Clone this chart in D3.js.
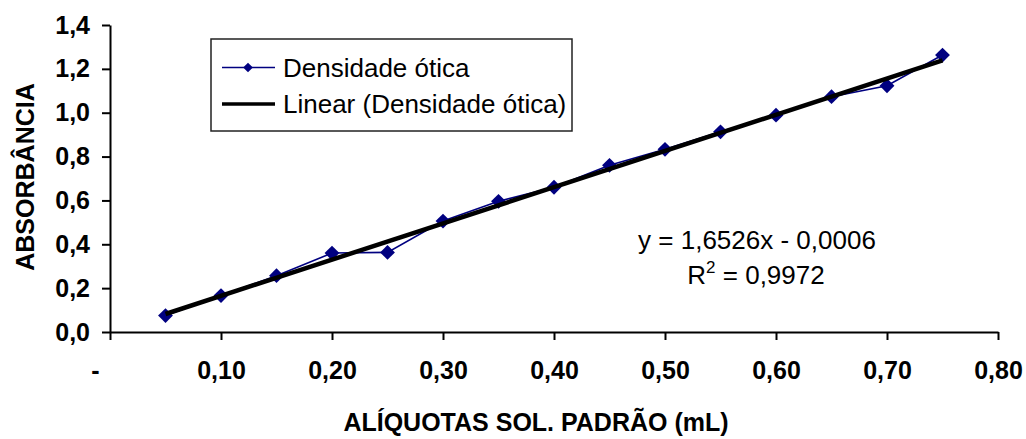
<!DOCTYPE html>
<html>
<head>
<meta charset="utf-8">
<script src="https://cdn.jsdelivr.net/npm/d3@7"></script>
<style>
  html, body { margin: 0; padding: 0; background: #fff; }
  svg { display: block; font-family: "Liberation Sans", Arial, sans-serif; }
</style>
</head>
<body>
<svg id="chart" width="1026" height="439"></svg>
<script>
// Alíquotas da solução padrão (mL) e densidade ótica medida
const aliquotas = [0.05, 0.10, 0.15, 0.20, 0.25, 0.30, 0.35, 0.40, 0.45, 0.50, 0.55, 0.60, 0.65, 0.70, 0.75];
const densidade = [0.075, 0.166, 0.257, 0.360, 0.363, 0.506, 0.596, 0.660, 0.760, 0.833, 0.913, 0.989, 1.073, 1.123, 1.263];

// Regressão linear: y = 1,6526x - 0,0006 ; R² = 0,9972
const inclinacao = 1.6526;
const intercepto = -0.0006;
const r2 = "0,9972";

const xTicks = [0, 0.1, 0.2, 0.3, 0.4, 0.5, 0.6, 0.7, 0.8];
const yTicks = [0, 0.2, 0.4, 0.6, 0.8, 1.0, 1.2, 1.4];

const serieNome = "Densidade ótica";
const tendenciaNome = "Linear (Densidade ótica)";
const tituloX = "ALÍQUOTAS SOL. PADRÃO (mL)";
const tituloY = "ABSORBÂNCIA";

const br = d3.formatLocale({ decimal: ",", thousands: ".", grouping: [3], currency: ["R$", ""] });
const fmtY = br.format(".1f");
const fmtX = v => (v === 0 ? "-" : br.format(".2f")(v));

const svg = d3.select("#chart");
const x = d3.scaleLinear().domain([0, 0.8]).range([110, 998]);
const y = d3.scaleLinear().domain([0, 1.4]).range([332, 25]);

const navy = "#000080";

// Eixo Y
const gy = svg.append("g")
  .attr("transform", `translate(${x(0)},0)`)
  .call(d3.axisLeft(y).tickValues(yTicks).tickFormat(fmtY).tickSize(8).tickSizeOuter(0).tickPadding(12));

// Eixo X
const gx = svg.append("g")
  .attr("transform", `translate(0,${y(0)})`)
  .call(d3.axisBottom(x).tickValues(xTicks).tickFormat(fmtX).tickSize(8).tickSizeOuter(0).tickPadding(21));

[gx, gy].forEach(g => {
  g.select(".domain").attr("stroke", "#000").attr("stroke-width", 2);
  g.selectAll(".tick line").attr("stroke", "#000").attr("stroke-width", 2);
  g.selectAll(".tick text")
    .attr("fill", "#000")
    .style("font-family", "'Liberation Sans', Arial, sans-serif")
    .style("font-weight", "bold")
    .style("font-size", "25px");
});
// o rótulo do zero usa o formato contábil, deslocado à esquerda
gx.selectAll(".tick text").filter(d => d === 0).attr("dx", -15);

// Série de dados
const pts = aliquotas.map((a, i) => [a, densidade[i]]);
svg.append("path")
  .datum(pts)
  .attr("fill", "none")
  .attr("stroke", navy)
  .attr("stroke-width", 1.6)
  .attr("d", d3.line().x(d => x(d[0])).y(d => y(d[1])));

const diamond = d3.symbol().type(d3.symbolDiamond2);
svg.append("g").selectAll("path")
  .data(pts)
  .join("path")
  .attr("transform", d => `translate(${x(d[0])},${y(d[1])})`)
  .attr("d", diamond.size(140)())
  .attr("fill", navy);

// Linha de tendência
const xMin = d3.min(aliquotas), xMax = d3.max(aliquotas);
svg.append("line")
  .attr("x1", x(xMin)).attr("y1", y(inclinacao * xMin + intercepto))
  .attr("x2", x(xMax)).attr("y2", y(inclinacao * xMax + intercepto))
  .attr("stroke", "#000")
  .attr("stroke-width", 4.5);

// Equação e R²
const eq = svg.append("g").style("font-size", "26px").attr("fill", "#000");
eq.append("text")
  .attr("x", 757).attr("y", 249)
  .attr("text-anchor", "middle")
  .text(`y = ${br.format(".4f")(inclinacao)}x - ${br.format(".4f")(Math.abs(intercepto))}`);
const r2t = eq.append("text")
  .attr("x", 756).attr("y", 284)
  .attr("text-anchor", "middle");
r2t.append("tspan").text("R");
r2t.append("tspan").attr("dy", -11).style("font-size", "17px").text("2");
r2t.append("tspan").attr("dy", 11).text(` = ${r2}`);

// Legenda
const lg = svg.append("g");
lg.append("rect")
  .attr("x", 211).attr("y", 39).attr("width", 361).attr("height", 92)
  .attr("fill", "#fff").attr("stroke", "#222").attr("stroke-width", 1.5);
lg.append("line").attr("x1", 222).attr("x2", 275).attr("y1", 67.5).attr("y2", 67.5)
  .attr("stroke", navy).attr("stroke-width", 1.6);
lg.append("path").attr("transform", "translate(248,67.5)")
  .attr("d", d3.symbol().type(d3.symbolDiamond2).size(60)()).attr("fill", navy);
lg.append("line").attr("x1", 222).attr("x2", 275).attr("y1", 104).attr("y2", 104)
  .attr("stroke", "#000").attr("stroke-width", 3.5);
lg.append("text").attr("x", 283).attr("y", 76.5).style("font-size", "26px").text(serieNome);
lg.append("text").attr("x", 283).attr("y", 113).style("font-size", "26px").text(tendenciaNome);

// Títulos dos eixos
svg.append("text")
  .attr("x", 536).attr("y", 431)
  .attr("text-anchor", "middle")
  .style("font-weight", "bold").style("font-size", "25px")
  .text(tituloX);
svg.append("text")
  .attr("transform", "translate(34,177) rotate(-90)")
  .attr("text-anchor", "middle")
  .style("font-weight", "bold").style("font-size", "25px")
  .text(tituloY);
</script>
</body>
</html>
